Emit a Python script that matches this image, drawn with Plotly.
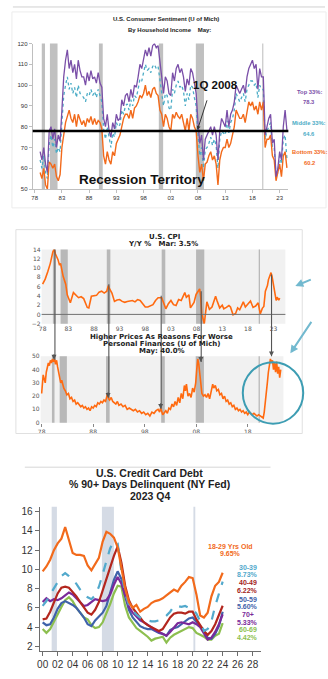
import plotly.graph_objects as go

W, H = 328, 679

ARIAL = "Liberation Sans, Arial, sans-serif"
WIDE = "DejaVu Sans, Verdana, sans-serif"


def px_x(px):
    return px / W


def px_y(py):
    return 1 - py / H


# ---------------- Consumer sentiment by household income (3 readings / year) ----------------
sent_start = 1979.0
sent_top = [68, 64, 70, 62, 58, 78, 80, 74, 79, 70, 76, 73, 88, 104, 112, 117, 108, 112,
            106, 110, 103, 112, 107, 104, 104, 100, 106, 102, 107, 103, 104, 101, 106,
            101, 99, 84, 80, 86, 78, 75, 82, 79, 86, 83, 84, 93, 90, 95, 96, 92, 98,
            94, 100, 99, 104, 110, 108, 112, 117, 114, 118, 114, 119, 120, 118, 119,
            110, 104, 96, 104, 102, 96, 95, 106, 102, 108, 110, 106, 108, 104, 97,
            103, 100, 108, 106, 101, 96, 82, 72, 76, 64, 74, 76, 78, 80, 76, 80, 76, 64,
            78, 84, 82, 80, 88, 80, 86, 88, 92, 100, 98, 96, 98, 100, 96, 104, 108, 110,
            112, 108, 110, 98, 108, 104, 104, 76, 80, 84, 86, 72, 74, 56, 60, 68, 64, 80,
            88, 78.3]
sent_mid = [64, 60, 66, 58, 55, 72, 76, 70, 74, 67, 70, 68, 82, 95, 100, 104, 98, 101,
            96, 99, 94, 100, 96, 95, 94, 92, 96, 95, 98, 95, 97, 94, 98, 95, 92, 79,
            74, 80, 74, 70, 77, 75, 82, 80, 81, 88, 86, 90, 91, 88, 93, 90, 95, 94,
            98, 103, 102, 106, 110, 107, 108, 106, 109, 110, 108, 109, 102, 97, 90,
            96, 95, 89, 88, 98, 96, 100, 102, 99, 100, 97, 90, 96, 93, 100, 99, 94, 90,
            76, 66, 70, 60, 69, 70, 72, 75, 71, 74, 71, 60, 74, 78, 77, 76, 83, 77,
            82, 84, 88, 96, 94, 92, 94, 96, 92, 98, 100, 102, 102, 100, 101, 94, 100, 98,
            98, 74, 78, 80, 82, 70, 70, 56, 58, 66, 62, 74, 76, 64.6]
sent_bot = [58, 55, 60, 52, 50, 63, 62, 60, 62, 56, 54, 57, 70, 76, 82, 85, 88, 84,
            82, 86, 80, 86, 83, 81, 83, 80, 84, 82, 85, 81, 84, 81, 83, 82, 79, 66,
            62, 68, 64, 62, 68, 66, 72, 74, 76, 80, 84, 86, 86, 84, 88, 84, 89, 90,
            92, 95, 94, 96, 100, 95, 97, 94, 98, 99, 96, 95, 88, 86, 80, 86, 84, 80,
            78, 86, 84, 87, 85, 84, 86, 82, 78, 84, 78, 86, 84, 80, 78, 66, 58, 62,
            54, 62, 63, 66, 68, 64, 66, 62, 52, 64, 68, 70, 70, 74, 70, 72, 76, 80,
            88, 86, 84, 84, 86, 82, 88, 92, 90, 92, 88, 90, 86, 92, 88, 92, 70, 74,
            74, 76, 66, 64, 54, 58, 62, 56, 66, 68, 60.2]
sent_recessions = [(1979.3, 1979.9), (1980.8, 1982.2), (1989.8, 1990.5),
                   (2000.8, 2001.6), (2007.6, 2009.1), (2019.8, 2020.0)]
sent_ticks = [1978, 1983, 1988, 1993, 1998, 2003, 2008, 2013, 2018, 2023]
sent_ticklabels = ["78", "83", "88", "93", "98", "03", "08", "13", "18", "23"]
territory_level = 78
call_out_date, call_out_level = 2007.9, 78.5

# ---------------- CPI, year over year ----------------
cpi_dates = [1978.0, 1978.5, 1979.0, 1979.5, 1980.0, 1980.25, 1980.5, 1981.0, 1981.3, 1981.5,
             1982.0, 1982.5, 1982.8, 1983.4, 1984.0, 1984.5, 1985.0, 1985.5, 1986.0, 1986.7,
             1987.0, 1987.5, 1988.0, 1988.5, 1989.0, 1989.5, 1990.0, 1990.5, 1990.8, 1991.0,
             1991.5, 1992.0, 1992.5, 1993.0, 1993.5, 1994.0, 1994.5, 1995.0, 1995.5, 1996.0,
             1996.5, 1997.0, 1997.5, 1998.0, 1998.5, 1999.0, 1999.5, 2000.0, 2000.5, 2001.2,
             2001.5, 2002.0, 2002.5, 2003.0, 2003.5, 2004.0, 2004.5, 2005.0, 2005.7, 2006.0,
             2006.5, 2006.8, 2007.5, 2007.9, 2008.6, 2008.8, 2009.0, 2009.5, 2010.0, 2010.5,
             2011.0, 2011.5, 2011.7, 2012.0, 2012.5, 2013.0, 2013.3, 2013.8, 2014.3, 2014.6,
             2015.1, 2015.6, 2016.0, 2016.4, 2017.1, 2017.5, 2017.9, 2018.5, 2019.0, 2019.5,
             2020.0, 2020.4, 2020.8, 2021.1, 2021.4, 2021.8, 2022.0, 2022.5, 2022.7, 2023.0,
             2023.3, 2023.5, 2023.7, 2024.0, 2024.2]
cpi_vals = [6.5, 7.6, 9.2, 11.0, 13.5, 14.0, 13.0, 11.8, 10.6, 11.0,
            8.2, 6.5, 4.2, 2.5, 4.7, 4.2, 3.6, 3.8, 3.4, 1.5,
            1.4, 3.9, 4.0, 4.1, 4.8, 5.0, 4.6, 5.0, 6.2, 5.6,
            4.6, 2.8, 3.1, 3.2, 2.8, 2.6, 2.8, 2.9, 3.0, 2.7,
            3.2, 3.0, 2.3, 1.6, 1.6, 1.8, 2.1, 3.0, 3.6, 3.6,
            2.7, 1.2, 2.3, 3.0, 2.1, 1.9, 3.2, 3.0, 4.7, 3.7,
            4.2, 1.4, 2.6, 4.3, 5.5, 3.7, 0.1, -2.0, 2.7, 1.1,
            1.6, 3.6, 3.9, 2.9, 1.4, 2.0, 1.2, 1.5, 1.9, 1.6,
            -0.1, 0.2, 1.4, 1.0, 2.7, 1.6, 2.1, 2.9, 1.5, 1.8,
            2.5, 0.1, 1.3, 1.7, 5.0, 6.2, 7.5, 9.0, 8.2, 6.4,
            4.9, 3.0, 3.7, 3.1, 3.5]
assert len(cpi_dates) == len(cpi_vals)

# ---------------- Higher prices as reason for worse finances (%) ----------------
fin_dates = [1978.0, 1978.2, 1978.3, 1978.5, 1978.7, 1978.9, 1979.1, 1979.3, 1979.5, 1979.7,
             1979.9, 1980.1, 1980.3, 1980.5, 1980.7, 1980.9, 1981.1, 1981.3, 1981.5, 1981.7,
             1981.9, 1982.1, 1982.3, 1982.6, 1982.9, 1983.2, 1983.5, 1983.8, 1984.1, 1984.4,
             1984.7, 1985.0, 1985.3, 1985.6, 1985.9, 1986.2, 1986.5, 1986.8, 1987.1, 1987.4,
             1987.7, 1988.0, 1988.3, 1988.6, 1988.9, 1989.2, 1989.5, 1989.8, 1990.1, 1990.4,
             1990.8, 1991.0, 1991.2, 1991.5, 1991.8, 1992.1, 1992.4, 1992.7, 1993.0, 1993.4,
             1993.8, 1994.2, 1994.6, 1995.0, 1995.4, 1995.8, 1996.2, 1996.6, 1997.0, 1997.4,
             1997.8, 1998.2, 1998.6, 1999.0, 1999.4, 1999.8, 2000.2, 2000.6, 2000.9, 2001.1,
             2001.5, 2001.8, 2002.1, 2002.4, 2002.7, 2003.0, 2003.3, 2003.6, 2003.9, 2004.2,
             2004.5, 2004.8, 2005.1, 2005.4, 2005.7, 2005.9, 2006.1, 2006.4, 2006.7, 2007.0,
             2007.3, 2007.6, 2007.9, 2008.1, 2008.3, 2008.5, 2008.7, 2008.9, 2009.1, 2009.4,
             2009.7, 2010.0, 2010.3, 2010.6, 2010.9, 2011.2, 2011.4, 2011.7, 2012.0, 2012.3,
             2012.6, 2012.9, 2013.2, 2013.5, 2013.8, 2014.1, 2014.4, 2014.7, 2015.0, 2015.3,
             2015.6, 2015.9, 2016.2, 2016.5, 2016.8, 2017.1, 2017.4, 2017.7, 2018.0, 2018.3,
             2018.6, 2018.9, 2019.2, 2019.5, 2019.8, 2020.1, 2020.4, 2020.7, 2021.0, 2021.2,
             2021.4, 2021.6, 2021.8, 2022.0, 2022.2, 2022.4, 2022.6, 2022.8, 2023.0, 2023.2,
             2023.4, 2023.6, 2023.8, 2024.0, 2024.2, 2024.4]
fin_vals = [22, 30, 36, 33, 30, 38, 42, 45, 43, 47,
            45, 48, 46, 48, 44, 47, 42, 38, 35, 30,
            32, 28, 26, 24, 21, 22, 18, 19, 16, 17,
            14, 15, 13, 12, 13, 11, 12, 10, 11, 9,
            12, 11, 13, 12, 15, 14, 16, 15, 17, 16,
            22, 18, 17, 19, 16, 15, 14, 16, 13, 14,
            12, 13, 10, 11, 10, 9, 10, 8, 9, 7,
            8, 6, 7, 5, 8, 7, 9, 10, 8, 11,
            6, 8, 9, 7, 11, 10, 14, 12, 16, 13,
            19, 15, 22, 18, 28, 24, 29, 20, 22, 19,
            26, 23, 30, 40, 48, 44, 35, 27, 22, 20,
            21, 19, 22, 18, 23, 29, 26, 28, 24, 25,
            21, 22, 18, 20, 16, 17, 14, 15, 12, 13,
            10, 11, 9, 10, 8, 9, 7, 8, 6, 8,
            7, 6, 7, 6, 5, 6, 5, 4, 3.5, 8,
            14, 22, 30, 38, 44, 48, 45, 47, 40, 45,
            38, 46, 37, 42, 34, 40.0]
assert len(fin_dates) == len(fin_vals)

recessions = [(1980.0, 1980.5), (1981.5, 1982.9), (1990.5, 1991.2),
              (2001.2, 2001.9), (2007.9, 2009.5), (2020.1, 2020.35)]

# CPI peaks carried down to the matching finance-survey readings
link_dates = [1980.4, 1990.9, 2001.1, 2008.9, 2022.6]
link_cpi = [14.0, 6.5, 4.0, 5.0, 8.6]
link_fin = [47.5, 18.7, 10.4, 45.7, 50.0]

# ---------------- Credit card delinquency by age (half-year readings) ----------------
cc_start = 2000.0
ages18 = [9.8, 10.3, 11.0, 12.0, 12.7, 13.2, 14.4, 13.0, 11.7, 11.5, 11.5, 11.4, 10.4, 9.9,
          10.5, 11.2, 12.9, 13.9, 13.7, 13.3, 12.3, 10.2, 8.0, 6.6, 6.0, 6.3, 5.6, 5.9, 6.1,
          6.5, 6.7, 6.8, 7.0, 7.3, 7.6, 7.9, 7.7, 8.3, 8.7, 9.2, 9.1, 7.4, 5.2, 5.0, 5.5,
          7.2, 8.3, 8.7, 9.65]
ages30 = [6.2, 6.7, 7.4, 8.0, 8.7, 9.3, 9.6, 9.3, 8.9, 8.5, 7.9, 7.4, 7.1, 6.9, 7.3, 8.2,
          9.5, 11.0, 12.2, 12.9, 12.7, 9.8, 7.5, 6.3, 5.7, 5.3, 5.0, 4.8, 4.7, 4.6, 4.6, 4.7,
          4.9, 5.2, 5.6, 6.2, 6.2, 6.1, 6.2, 6.0, 5.9, 5.4, 4.6, 3.6, 3.8, 4.6, 6.2, 7.5, 8.73]
ages40 = [4.8, 4.9, 5.6, 6.6, 7.5, 8.1, 8.2, 8.1, 7.7, 7.2, 6.6, 6.0, 5.5, 5.3, 5.8, 6.6,
          7.8, 9.1, 10.3, 11.4, 12.4, 10.7, 8.3, 6.8, 6.0, 5.5, 4.9, 4.5, 4.2, 4.0, 3.8, 3.6,
          3.8, 4.4, 5.0, 5.4, 5.5, 5.5, 5.4, 5.6, 5.6, 4.8, 4.2, 3.6, 3.2, 3.6, 4.3, 5.2, 6.22]
ages50 = [4.5, 4.2, 4.3, 5.0, 5.9, 6.5, 6.7, 6.5, 6.3, 6.0, 5.5, 5.0, 4.3, 4.1, 4.7, 5.1,
          5.5, 6.2, 7.5, 8.9, 9.8, 9.0, 7.2, 5.8, 5.0, 4.6, 4.1, 3.9, 3.8, 3.8, 3.6, 3.4,
          3.3, 3.1, 3.7, 3.9, 4.0, 4.3, 4.6, 4.9, 5.0, 4.6, 4.1, 3.6, 2.9, 2.8, 3.3, 4.1, 5.60]
ages70 = [6.6, 7.0, 6.7, 6.9, 6.8, 7.0, 7.3, 7.6, 7.4, 7.0, 6.6, 6.2, 6.3, 6.6, 6.9, 6.8,
          6.7, 6.8, 7.4, 8.4, 9.2, 8.5, 7.3, 6.1, 5.5, 5.1, 4.7, 4.5, 4.2, 4.0, 3.7, 3.5,
          3.3, 3.1, 3.5, 3.9, 4.4, 4.5, 4.4, 4.3, 4.5, 4.3, 4.0, 3.3, 2.7, 2.9, 3.5, 4.3, 5.33]
ages60 = [3.8, 3.4, 3.8, 4.6, 5.3, 6.1, 6.8, 7.1, 6.7, 6.0, 5.5, 5.0, 4.8, 4.2, 3.9, 4.0,
          4.5, 5.4, 6.4, 7.5, 8.3, 8.2, 6.2, 5.0, 4.4, 3.9, 3.6, 3.3, 3.0, 2.6, 2.8, 2.9,
          3.0, 2.4, 2.9, 3.2, 3.4, 3.6, 3.8, 4.0, 3.9, 3.4, 3.2, 3.0, 2.7, 2.7, 3.1, 3.3, 4.42]

# ---------------- layout geometry ----------------
X1DOM, Y1DOM = [px_x(30), px_x(288)], [px_y(187), px_y(40)]
X2DOM, Y2DOM = [px_x(39), px_x(285)], [px_y(323), px_y(248)]
X3DOM, Y3DOM = [px_x(38), px_x(283)], [px_y(423), px_y(356)]
X4DOM, Y4DOM = [px_x(37), px_x(260)], [px_y(654), px_y(508)]
X1RNG, Y1RNG = [1977.64, 2024.6], [50, 120]
X2RNG, Y2RNG = [1977.81, 2025.3], [-2, 14]
X3RNG, Y3RNG = [1977.81, 2024.92], [0, 50]
X4RNG, Y4RNG = [1999.6, 2029.06], [1.49, 16.51]


def to_paper(v, dom, rng):
    return dom[0] + (v - rng[0]) / (rng[1] - rng[0]) * (dom[1] - dom[0])


PURPLE, TEAL, ORANGE = "#7a4fa8", "#4bacc6", "#f26a1b"
CPI_ORANGE = "#ff6a10"

fig = go.Figure()

sent_x = [sent_start + i / 3 for i in range(len(sent_top))]
fig.add_trace(go.Scatter(x=sent_x, y=sent_mid, mode="lines", xaxis="x", yaxis="y",
                         line=dict(color=TEAL, width=1.3, dash="dot")))
fig.add_trace(go.Scatter(x=sent_x, y=sent_bot, mode="lines", xaxis="x", yaxis="y",
                         line=dict(color=ORANGE, width=1.4)))
fig.add_trace(go.Scatter(x=sent_x, y=sent_top, mode="lines", xaxis="x", yaxis="y",
                         line=dict(color=PURPLE, width=1.3)))

fig.add_trace(go.Scatter(x=cpi_dates, y=cpi_vals, mode="lines", xaxis="x2", yaxis="y2",
                         line=dict(color=CPI_ORANGE, width=1.6)))
fig.add_trace(go.Scatter(x=fin_dates, y=fin_vals, mode="lines", xaxis="x3", yaxis="y3",
                         line=dict(color=CPI_ORANGE, width=1.6)))

cc_x = [cc_start + 0.5 * i for i in range(len(ages18))]
cc_series = [
    (ages60, "#8dbf4f", "solid", "60-69"),
    (ages50, "#3f62aa", "solid", "50-59"),
    (ages70, "#7a2a9a", "solid", "70+"),
    (ages40, "#b3261e", "solid", "40-49"),
    (ages30, "#52a9cc", "dash", "30-39"),
    (ages18, "#f26a1b", "solid", "18-29 Yrs Old"),
]
for vals, col, dash, name in cc_series:
    fig.add_trace(go.Scatter(x=cc_x, y=vals, mode="lines", xaxis="x4", yaxis="y4",
                             line=dict(color=col, width=2.2, dash=dash), name=name))

shapes = []
annotations = []

# header strip and panel frames
shapes.append(dict(type="line", xref="paper", yref="paper", x0=px_x(10), x1=px_x(325),
                   y0=px_y(3), y1=px_y(3), line=dict(color="#d0d0d0", width=1)))
shapes.append(dict(type="rect", xref="paper", yref="paper", x0=px_x(9), x1=px_x(326),
                   y0=px_y(206), y1=px_y(8), line=dict(color="#ececec", width=1)))
shapes.append(dict(type="rect", xref="paper", yref="paper", x0=px_x(13), x1=px_x(302),
                   y0=px_y(434), y1=px_y(228), line=dict(color="#e0e0e0", width=1)))
shapes.append(dict(type="line", xref="paper", yref="paper", x0=px_x(22), x1=px_x(270),
                   y0=px_y(468), y1=px_y(468), line=dict(color="#d6d6d6", width=1)))

# recession bands
for a, b in sent_recessions:
    shapes.append(dict(type="rect", xref="x", yref="y domain", x0=a, x1=b, y0=0, y1=1,
                       fillcolor="#c0c0c0", line=dict(width=0), layer="below"))
for ax, ay in (("x2", "y2"), ("x3", "y3")):
    shapes.append(dict(type="rect", xref=ax + " domain", yref=ay + " domain",
                       x0=0, x1=1, y0=0, y1=1, fillcolor="#f1f1f1", line=dict(width=0),
                       layer="below"))
    for a, b in recessions:
        shapes.append(dict(type="rect", xref=ax, yref=ay + " domain",
                           x0=a, x1=b, y0=0, y1=1, fillcolor="#b8b8b8",
                           line=dict(width=0), layer="below"))
for a, b in recessions[3:]:
    shapes.append(dict(type="rect", xref="x4", yref="y4 domain", x0=a, x1=b, y0=0, y1=1,
                       fillcolor="#d5dbe5", line=dict(width=0), layer="below"))

# recession-territory line
shapes.append(dict(type="line", xref="x domain", yref="y", x0=0, x1=1,
                   y0=territory_level, y1=territory_level, line=dict(color="black", width=2.5)))
# CPI zero line
shapes.append(dict(type="line", xref="x2 domain", yref="y2", x0=0, x1=1, y0=0, y1=0,
                   line=dict(color="#707070", width=1)))

# links from CPI peaks to finance readings
for d, c, f in zip(link_dates, link_cpi, link_fin):
    shapes.append(dict(type="line", xref="x2", yref="paper", x0=d, x1=d,
                       y0=to_paper(c, Y2DOM, Y2RNG), y1=to_paper(f, Y3DOM, Y3RNG),
                       line=dict(color="#555555", width=1.1)))
    annotations.append(dict(xref="x3", yref="y3", x=d, y=f, text="", showarrow=True,
                            arrowhead=2, arrowsize=0.9, arrowwidth=1.1, arrowcolor="#555555",
                            ax=0, ay=-7))

# highlight circle and pointers
shapes.append(dict(type="circle", xref="paper", yref="paper", x0=px_x(242), x1=px_x(303),
                   y0=px_y(424), y1=px_y(362), line=dict(color="#3d9db3", width=2)))
annotations.append(dict(xref="paper", yref="paper", x=px_x(295), y=px_y(285), text="",
                        showarrow=True, arrowhead=2, arrowsize=0.8, arrowwidth=2,
                        arrowcolor="#72b9cf", ax=17, ay=-7))
annotations.append(dict(xref="paper", yref="paper", x=px_x(290), y=px_y(353), text="",
                        showarrow=True, arrowhead=2, arrowsize=0.8, arrowwidth=2,
                        arrowcolor="#72b9cf", ax=22, ay=-33))


def label(x, y, text, size, color="#222222", family=ARIAL, bold=True, xanchor="center"):
    annotations.append(dict(xref="paper", yref="paper", x=px_x(x), y=px_y(y), text=text,
                            showarrow=False, xanchor=xanchor, yanchor="middle",
                            font=dict(size=size, color=color, family=family,
                                      weight="bold" if bold else "normal")))


# sentiment chart text
label(165, 15, "U.S. Consumer Sentiment (U of Mich)", 6)
label(168, 26, "By Household Income    May:", 6)
label(140, 177, "Recession Territory", 13.5, color="#111111")
label(214, 82, "1Q 2008", 11.5, color="#111111")
annotations.append(dict(xref="x", yref="y", x=call_out_date, y=call_out_level, text="",
                        showarrow=True, arrowhead=2, arrowsize=0.8, arrowwidth=1,
                        arrowcolor="#333333", ax=10, ay=-31))
label(309, 89, "Top 33%:", 5.8, color=PURPLE)
label(309, 99, f"{sent_top[-1]:.1f}", 5.8, color=PURPLE)
label(309, 120, "Middle 33%:", 5.8, color=TEAL)
label(309, 131, f"{sent_mid[-1]:.1f}", 5.8, color=TEAL)
label(309, 150, "Bottom 33%:", 5.8, color=ORANGE)
label(309, 161, f"{sent_bot[-1]:.1f}", 5.8, color=ORANGE)

# CPI / finances text
label(163, 235, "U.S. CPI", 7, family=WIDE)
label(161, 242.5, f"Y/Y %   Mar: {cpi_vals[-1]:.1f}%", 7, family=WIDE)
label(160, 336.5, "Higher Prices As Reasons For Worse", 7, family=WIDE)
label(160, 343.8, "Personal Finances (U of Mich)", 7, family=WIDE)
label(160, 351.1, f"May: {fin_vals[-1]:.1f}%", 7, family=WIDE)

# credit card text
label(148, 474, "U.S. Credit Card Debt", 10.5)
label(148, 485, "% 90+ Days Delinquent (NY Fed)", 10.5)
label(148, 497, "2023 Q4", 10.5)
cc_labels = [
    ("18-29 Yrs Old", f"{ages18[-1]:.2f}%", "#f26a1b", 230, 548, 555),
    ("30-39", f"{ages30[-1]:.2f}%", "#52a9cc", 247, 569, 576),
    ("40-49", f"{ages40[-1]:.2f}%", "#a3231b", 247, 585, 593),
    ("50-59", f"{ages50[-1]:.2f}%", "#3f62aa", 247, 602, 609),
    ("70+", f"{ages70[-1]:.2f}%", "#7a2a9a", 247, 617, 625),
    ("60-69", f"{ages60[-1]:.2f}%", "#8dbf4f", 247, 632, 640),
]
for name, val, col, cx, y1, y2 in cc_labels:
    label(cx, y1, name, 7, color=col)
    label(cx, y2, val, 7, color=col)

tickfont_small = dict(size=6, color="#333333", family=ARIAL)
tickfont_wide = dict(size=6, color="#555555", family=WIDE)

fig.update_layout(
    width=W, height=H, margin=dict(l=0, r=0, t=0, b=0),
    paper_bgcolor="white", plot_bgcolor="rgba(0,0,0,0)", showlegend=False,
    shapes=shapes, annotations=annotations,
    xaxis=dict(domain=X1DOM, range=X1RNG, anchor="y", tickvals=sent_ticks,
               ticktext=sent_ticklabels, showgrid=False, zeroline=False, showline=True,
               linecolor="#bfbfbf", ticks="outside", ticklen=3, tickcolor="#bfbfbf",
               tickfont=tickfont_small),
    yaxis=dict(domain=Y1DOM, range=Y1RNG, anchor="x", dtick=10, showgrid=False,
               zeroline=False, showline=True, linecolor="#bfbfbf", ticks="outside",
               ticklen=3, tickcolor="#bfbfbf", tickfont=tickfont_small),
    xaxis2=dict(domain=X2DOM, range=X2RNG, anchor="y2", tickvals=sent_ticks,
                ticktext=sent_ticklabels, showgrid=False, zeroline=False, showline=False,
                ticks="", tickfont=tickfont_wide),
    yaxis2=dict(domain=Y2DOM, range=Y2RNG, anchor="x2", tickvals=list(range(-2, 15, 2)),
                showgrid=False, zeroline=False, showline=False, ticks="",
                tickfont=tickfont_wide),
    xaxis3=dict(domain=X3DOM, range=X3RNG, anchor="y3",
                tickvals=[1978, 1988, 1998, 2008, 2018],
                ticktext=["78", "88", "98", "08", "18"], showgrid=False, zeroline=False,
                showline=False, ticks="outside", ticklen=3, tickcolor="#888888",
                tickfont=tickfont_wide),
    yaxis3=dict(domain=Y3DOM, range=Y3RNG, anchor="x3", dtick=10, showgrid=False,
                zeroline=False, showline=False, ticks="", tickfont=tickfont_wide),
    xaxis4=dict(domain=X4DOM, range=X4RNG, anchor="y4", tickvals=list(range(2000, 2029, 2)),
                ticktext=[f"{y % 100:02d}" for y in range(2000, 2029, 2)], showgrid=False,
                zeroline=False, showline=True, linecolor="#6d6d6d", ticks="outside",
                ticklen=4, tickcolor="#6d6d6d",
                tickfont=dict(size=10, color="#333333", family=ARIAL)),
    yaxis4=dict(domain=Y4DOM, range=Y4RNG, anchor="x4", tickvals=list(range(2, 17, 2)),
                showgrid=False, zeroline=False, showline=True, linecolor="#6d6d6d",
                ticks="outside", ticklen=4, tickcolor="#6d6d6d",
                tickfont=dict(size=10, color="#333333", family=ARIAL)),
)

fig.write_html("out.html")
